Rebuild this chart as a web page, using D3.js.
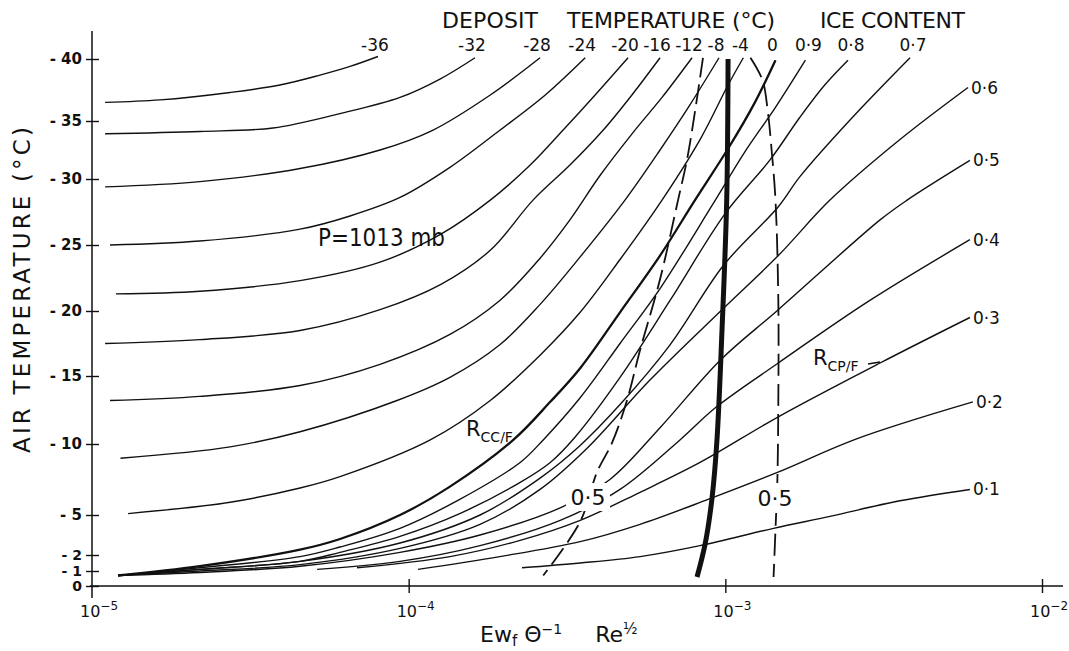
<!DOCTYPE html>
<html>
<head>
<meta charset="utf-8">
<script src="https://cdn.jsdelivr.net/npm/d3@7"></script>
<style>
  html, body { margin: 0; padding: 0; background: #fff; }
  svg { display: block; }
  text { font-family: "DejaVu Sans", "Liberation Sans", sans-serif; fill: #111; }
</style>
</head>
<body>
<svg id="chart" width="1069" height="651"></svg>
<script>
// Axis ticks
const tempTicks = [0, -1, -2, -5, -10, -15, -20, -25, -30, -35, -40];
const paramTicks = [1e-5, 1e-4, 1e-3, 1e-2];
const paramTickExp = ["-5", "-4", "-3", "-2"];

// Deposit temperature isotherms: [Ew_f Θ^-1 Re^1/2, air temperature °C]
const iso36 = [[1.10e-5,-36.5],[1.64e-5,-36.7],[2.73e-5,-37.3],[3.92e-5,-37.9],[5.25e-5,-38.7],[6.53e-5,-39.4],[8.0e-5,-40.2]];
const iso32 = [[1.10e-5,-33.9],[2.19e-5,-34.1],[3.73e-5,-34.4],[6.07e-5,-35.6],[9.39e-5,-36.9],[1.26e-4,-38.4],[1.62e-4,-40.1]];
const iso28 = [[1.10e-5,-29.4],[2.19e-5,-29.8],[4.54e-5,-30.9],[8.12e-5,-32.5],[1.19e-4,-34.2],[1.81e-4,-37.1],[2.60e-4,-40.1]];
const iso24 = [[1.14e-5,-25.0],[2.19e-5,-25.3],[4.54e-5,-26.2],[6.53e-5,-27.2],[9.39e-5,-28.6],[1.35e-4,-31.0],[1.94e-4,-34.2],[2.70e-4,-37.1],[3.61e-4,-40.1]];
const iso20 = [[1.19e-5,-21.3],[2.19e-5,-21.5],[4.54e-5,-22.3],[8.12e-5,-23.7],[1.26e-4,-25.8],[1.81e-4,-28.4],[2.42e-4,-31.2],[3.07e-4,-34.2],[3.88e-4,-37.1],[4.93e-4,-40.1]];
const iso16 = [[1.10e-5,-17.5],[2.19e-5,-17.8],[4.54e-5,-18.5],[8.12e-5,-20.1],[1.26e-4,-22.0],[1.81e-4,-24.6],[2.47e-4,-28.4],[3.23e-4,-31.2],[4.11e-4,-34.2],[5.07e-4,-37.1],[6.22e-4,-40.1]];
const iso12 = [[1.14e-5,-13.2],[2.19e-5,-13.5],[4.54e-5,-14.3],[8.12e-5,-15.9],[1.35e-4,-18.2],[1.94e-4,-20.8],[2.60e-4,-24.0],[3.23e-4,-26.9],[4.02e-4,-30.3],[5.11e-4,-34.0],[6.31e-4,-36.9],[7.85e-4,-40.1]];
const iso8 = [[1.23e-5,-9.0],[2.73e-5,-9.8],[4.54e-5,-10.9],[9.19e-5,-13.2],[1.35e-4,-14.9],[1.94e-4,-17.4],[2.60e-4,-20.5],[3.48e-4,-24.1],[4.82e-4,-28.4],[6.22e-4,-32.5],[7.73e-4,-36.3],[9.55e-4,-40.1]];
const iso4 = [[1.30e-5,-5.1],[2.73e-5,-5.9],[4.54e-5,-6.9],[6.07e-5,-7.7],[1.17e-4,-10.3],[1.81e-4,-13.2],[2.60e-4,-16.6],[3.48e-4,-19.9],[4.65e-4,-23.9],[6.31e-4,-28.4],[8.32e-4,-33.4],[1.02e-3,-37.9],[1.14e-3,-40.1]];
const iso0 = [[1.21e-5,-0.7],[2.19e-5,-1.3],[4.54e-5,-2.4],[6.07e-5,-3.2],[9.39e-5,-5.0],[1.35e-4,-7.0],[2.14e-4,-10.3],[2.80e-4,-13.1],[3.48e-4,-15.6],[4.65e-4,-19.9],[6.22e-4,-24.2],[8.02e-4,-28.4],[1.03e-3,-32.8],[1.24e-3,-36.5],[1.44e-3,-39.9]];

// Ice content lines
const ice9 = [[1.21e-5,-0.7],[2.19e-5,-1.2],[4.54e-5,-1.9],[6.07e-5,-2.6],[9.39e-5,-4.0],[1.45e-4,-6.1],[2.25e-4,-8.7],[2.66e-4,-10.3],[3.48e-4,-13.4],[4.65e-4,-17.5],[6.22e-4,-21.7],[9.08e-4,-28.0],[1.15e-3,-32.3],[1.44e-3,-36.1],[1.79e-3,-39.9]];
const ice8 = [[1.21e-5,-0.7],[2.19e-5,-1.1],[4.54e-5,-1.6],[6.07e-5,-2.2],[9.39e-5,-3.4],[1.45e-4,-5.1],[2.25e-4,-7.3],[2.80e-4,-8.7],[3.35e-4,-10.5],[4.65e-4,-14.9],[6.69e-4,-20.8],[1.0e-3,-27.4],[1.38e-3,-31.6],[1.72e-3,-35.3],[2.06e-3,-37.9],[2.44e-3,-39.9]];
const ice7 = [[1.21e-5,-0.7],[2.19e-5,-1.1],[4.54e-5,-1.6],[9.39e-5,-2.9],[1.68e-4,-5.0],[2.60e-4,-7.6],[3.48e-4,-9.9],[4.65e-4,-12.9],[6.69e-4,-17.4],[9.9e-4,-23.5],[1.47e-3,-27.9],[1.72e-3,-30.2],[2.48e-3,-35.1],[3.83e-3,-40.1]];
const ice6 = [[1.21e-5,-0.7],[2.19e-5,-1.0],[4.54e-5,-1.4],[9.39e-5,-2.5],[1.68e-4,-4.3],[2.60e-4,-6.8],[3.66e-4,-9.7],[5.78e-4,-14.7],[9.76e-4,-20.1],[1.47e-3,-24.2],[2.14e-3,-28.4],[3.56e-3,-33.4],[5.84e-3,-37.7]];
const ice5 = [[1.21e-5,-0.7],[2.19e-5,-0.9],[4.54e-5,-1.3],[9.39e-5,-2.2],[1.68e-4,-3.5],[3.01e-4,-5.5],[4.32e-4,-7.5],[6.22e-4,-11.2],[9.62e-4,-16.2],[1.47e-3,-20.1],[3.08e-3,-26.9],[3.75e-3,-28.4],[5.92e-3,-31.6]];
const ice4 = [[5.14e-5,-1.1],[9.39e-5,-1.6],[1.68e-4,-2.7],[3.01e-4,-4.6],[4.65e-4,-6.8],[7.19e-4,-10.3],[9.34e-4,-12.7],[1.47e-3,-16.0],[2.86e-3,-20.8],[5.92e-3,-25.4]];
const ice3 = [[6.87e-5,-1.2],[1.35e-4,-1.9],[2.25e-4,-3.1],[3.48e-4,-4.6],[5.38e-4,-6.6],[8.32e-4,-8.7],[1.47e-3,-12.0],[3.08e-3,-16.0],[5.92e-3,-19.5]];
const ice2 = [[1.07e-4,-1.1],[1.94e-4,-1.9],[3.48e-4,-3.0],[5.38e-4,-4.3],[8.82e-4,-6.1],[1.46e-3,-8.0],[2.61e-3,-10.4],[6.05e-3,-13.1]];
const ice1 = [[2.28e-4,-1.2],[3.48e-4,-1.5],[5.38e-4,-1.9],[8.32e-4,-2.7],[1.42e-3,-4.0],[2.14e-3,-4.9],[3.56e-3,-6.0],[5.92e-3,-6.8]];

// Heavy boundary line and the two dashed 0.5 lines
const boundary = [[1.02e-3,-40],[1.01e-3,-28.4],[9.76e-4,-18.5],[9.41e-4,-10.3],[9.08e-4,-6.2],[8.63e-4,-2.8],[8.14e-4,-0.6]];
const dashLeft = [[8.50e-4,-40.1],[7.62e-4,-32.1],[7.09e-4,-28.4],[6.22e-4,-22.4],[5.38e-4,-17.0],[4.89e-4,-13.2],[4.39e-4,-10.1],[3.93e-4,-8.0],[3.48e-4,-4.5],[2.66e-4,-0.7]];
const dashRight = [[1.20e-3,-40.1],[1.31e-3,-38.3],[1.36e-3,-35.9],[1.40e-3,-32.5],[1.44e-3,-28.4],[1.47e-3,-20.8],[1.47e-3,-13.2],[1.46e-3,-7.5],[1.44e-3,-3.9],[1.42e-3,-0.6]];

const depositCurves = [iso36, iso32, iso28, iso24, iso20, iso16, iso12, iso8, iso4, iso0];
const depositLabels = ["-36", "-32", "-28", "-24", "-20", "-16", "-12", "-8", "-4", "0"];
const iceTopCurves = [ice9, ice8, ice7];
const iceTopLabels = ["0·9", "0·8", "0·7"];
const iceSideCurves = [ice6, ice5, ice4, ice3, ice2, ice1];
const iceSideLabels = ["0·6", "0·5", "0·4", "0·3", "0·2", "0·1"];

const svg = d3.select("#chart");
const ink = "#111";

const x = d3.scaleLog().domain([1e-5, 1e-2]).range([92, 1042]);
const y = d3.scaleLinear().domain(tempTicks).range([586, 571, 555, 515, 444, 376, 311, 245, 179, 121, 59]);

const line = d3.line()
  .x(d => x(d[0]))
  .y(d => y(d[1]))
  .curve(d3.curveCatmullRom.alpha(0.5));

// ---- axes ----
const x0 = x(1e-5), y0 = y(0);
svg.append("line").attr("x1", x0).attr("x2", x0)
  .attr("y1", y0 + 12).attr("y2", y(-40) - 28)
  .attr("stroke", ink).attr("stroke-width", 1.5);
svg.append("line").attr("x1", x0 - 2).attr("x2", x(1e-2) + 21)
  .attr("y1", y0).attr("y2", y0)
  .attr("stroke", ink).attr("stroke-width", 1.5);

const yAxis = svg.append("g")
  .attr("transform", `translate(${x0},0)`)
  .call(d3.axisLeft(y).tickValues(tempTicks).tickSize(6).tickPadding(4)
    .tickFormat(d => d === 0 ? "0" : "- " + (-d)));
yAxis.select(".domain").remove();
yAxis.selectAll(".tick line").attr("x1", 7).attr("stroke", ink).attr("stroke-width", 1.4);
yAxis.selectAll(".tick text")
  .style("font-family", "'DejaVu Sans', sans-serif")
  .style("font-size", d => Math.abs(d) <= 2 ? "14px" : "15px")
  .style("font-weight", "bold").attr("fill", ink);

const xAxis = svg.append("g")
  .attr("transform", `translate(0,${y0})`)
  .call(d3.axisBottom(x).tickValues(paramTicks.slice(1)).tickSize(7).tickFormat(""));
xAxis.select(".domain").remove();
xAxis.selectAll(".tick line").attr("y1", -7).attr("stroke", ink).attr("stroke-width", 1.4);

paramTicks.forEach((v, i) => {
  const t = svg.append("text").attr("x", x(v) - 12).attr("y", y0 + 31)
    .style("font-size", "16px");
  t.append("tspan").text("10");
  t.append("tspan").attr("dy", -7).style("font-size", "12px").text(paramTickExp[i].replace("-", "\u2212"));
});

// axis titles
const xt = svg.append("text").attr("x", 480).attr("y", 642).style("font-size", "22px");
xt.append("tspan").text("Ew");
xt.append("tspan").attr("dy", 4).style("font-size", "15px").text("f");
xt.append("tspan").attr("dy", -4).text(" \u0398");
xt.append("tspan").attr("dy", -8).style("font-size", "14px").text("\u22121");
xt.append("tspan").attr("dy", 8).text("\u2003\u2002Re");
xt.append("tspan").attr("dy", -8).style("font-size", "15px").text("\u00BD");

svg.append("text")
  .attr("transform", "translate(30,290) rotate(-90)")
  .attr("text-anchor", "middle")
  .attr("textLength", 326).attr("lengthAdjust", "spacing")
  .style("font-size", "23px")
  .text("AIR TEMPERATURE (°C)");

// headings
function heading(x0, len, txt) {
  svg.append("text").attr("x", x0).attr("y", 28).attr("textLength", len).attr("lengthAdjust", "spacing")
    .style("font-size", "22px").text(txt);
}
heading(442, 96, "DEPOSIT");
heading(567, 208, "TEMPERATURE (°C)");
heading(820, 145, "ICE CONTENT");

// ---- curves ----
const curves = svg.append("g").attr("fill", "none").attr("stroke", ink);

depositCurves.forEach(c => {
  curves.append("path").attr("d", line(c))
    .attr("stroke-width", c === iso0 ? 2.3 : 1.4);
});
iceTopCurves.concat(iceSideCurves).forEach(c => {
  curves.append("path").attr("d", line(c)).attr("stroke-width", 1.4);
});
curves.append("path").attr("d", line(dashLeft)).attr("stroke-width", 1.8).attr("stroke-dasharray", "20,7");
curves.append("path").attr("d", line(dashRight)).attr("stroke-width", 1.8).attr("stroke-dasharray", "22,8");
curves.append("path").attr("d", line(boundary)).attr("stroke-width", 5);

// ---- curve labels ----
depositCurves.forEach((c, i) => {
  const end = c[c.length - 1];
  svg.append("text").attr("x", x(end[0]) - 3).attr("y", 51)
    .attr("text-anchor", "middle").style("font-size", "17px").text(depositLabels[i]);
});
iceTopCurves.forEach((c, i) => {
  const end = c[c.length - 1];
  svg.append("text").attr("x", x(end[0]) + 3).attr("y", 51)
    .attr("text-anchor", "middle").style("font-size", "17px").text(iceTopLabels[i]);
});
iceSideCurves.forEach((c, i) => {
  const end = c[c.length - 1];
  svg.append("text").attr("x", x(end[0]) + 3).attr("y", y(end[1]) + 6)
    .style("font-size", "17px").text(iceSideLabels[i]);
});

// 0.5 labels set into the dashed lines
function knockLabel(cx, cy, w, h, txt) {
  svg.append("rect").attr("x", cx - w / 2).attr("y", cy - h / 2).attr("width", w).attr("height", h).attr("fill", "#fff");
  svg.append("text").attr("x", cx).attr("y", cy + 8).attr("text-anchor", "middle")
    .style("font-size", "22px").text(txt);
}
knockLabel(588, 497, 44, 28, "0·5");
knockLabel(775, 498, 44, 30, "0·5");

// annotations
svg.append("text").attr("x", 318).attr("y", 246).attr("textLength", 127).attr("lengthAdjust", "spacingAndGlyphs")
  .style("font-size", "24px").text("P=1013 mb");

const rcc = svg.append("text").attr("x", 466).attr("y", 436).style("font-size", "21px");
rcc.append("tspan").text("R");
rcc.append("tspan").attr("dy", 6).style("font-size", "14px").text("CC/F");

const rcp = svg.append("text").attr("x", 813).attr("y", 365).style("font-size", "21px");
rcp.append("tspan").text("R");
rcp.append("tspan").attr("dy", 6).style("font-size", "14px").text("CP/F");
svg.append("line").attr("x1", 868).attr("x2", 880).attr("y1", 364).attr("y2", 362)
  .attr("stroke", ink).attr("stroke-width", 1.4);
</script>
</body>
</html>
